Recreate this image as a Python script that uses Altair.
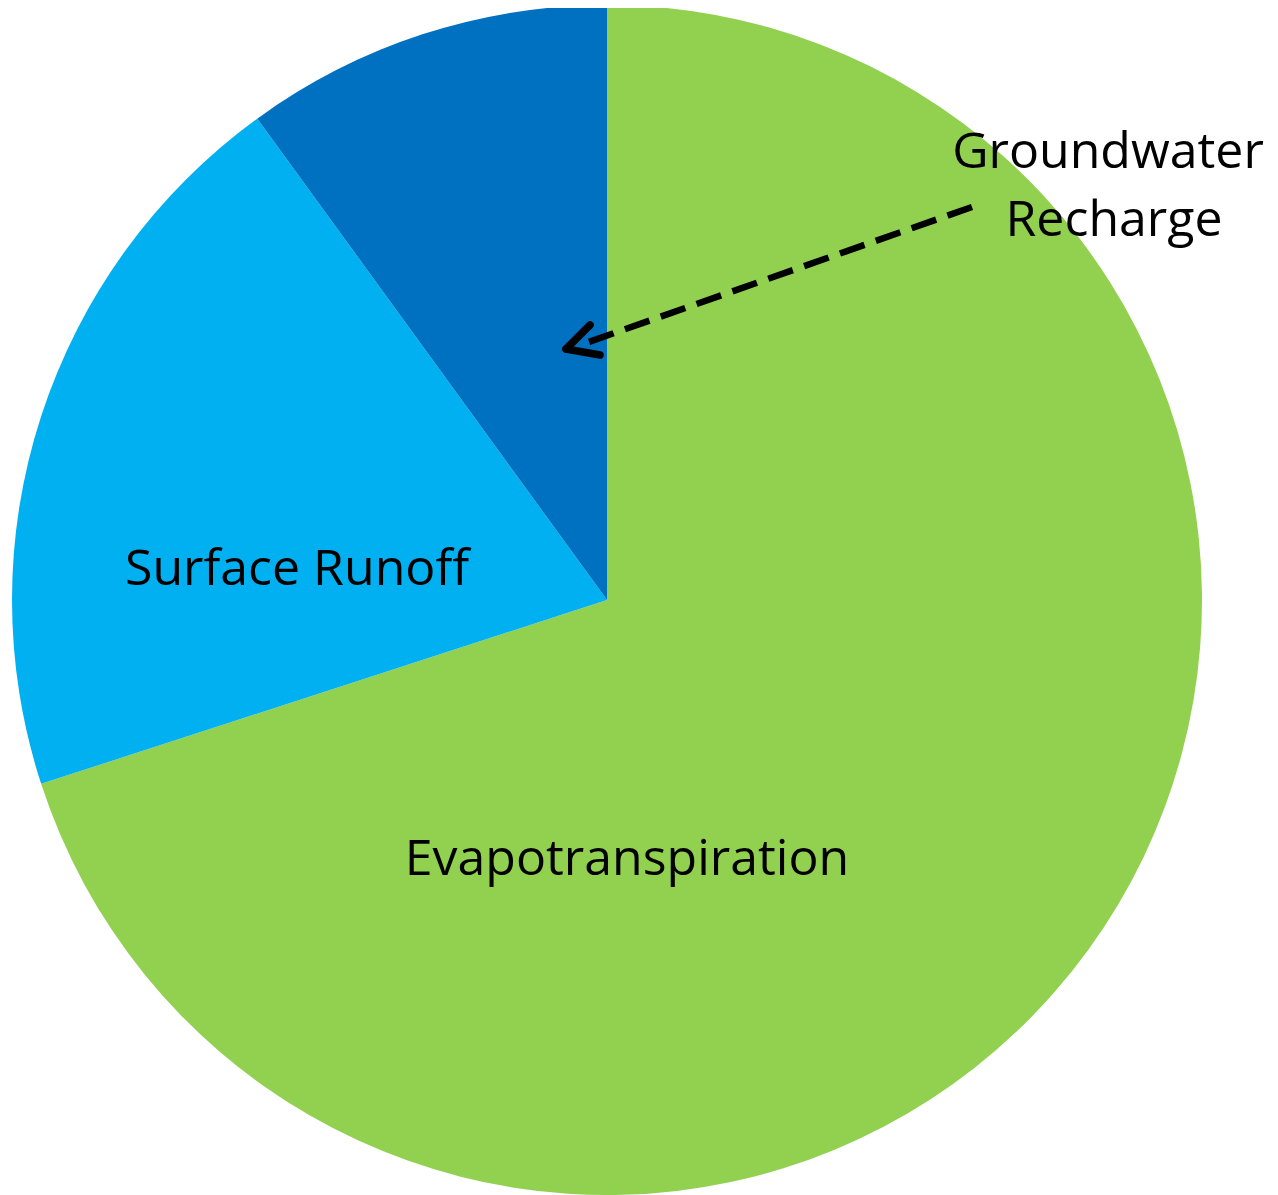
import altair as alt
import pandas as pd

# Pie data (percent of precipitation)
categories = ["Evapotranspiration", "Surface Runoff", "Groundwater Recharge"]
values = [70, 20, 10]
colors = ["#92D050", "#00B0F0", "#0070C0"]

# Label text and anchor positions (chart pixel coords, y from top)
label_text = ["Groundwater", "Recharge", "Surface Runoff", "Evapotranspiration"]
label_x = [1100, 1106, 289, 619]
label_y = [160, 228, 577, 867]

# Dashed arrow shaft and arrowhead arms
shaft_x, shaft_y, shaft_x2, shaft_y2 = [964], [199], [578], [335]
head_x = [558, 558]
head_y = [341, 341]
head_x2 = [582, 592]
head_y2 = [317, 347]

W, H = 1262, 1187
CX, CY, R = 599, 592, 595

pie_df = pd.DataFrame({"category": categories, "value": values, "order": list(range(len(categories)))})
lab_df = pd.DataFrame({"text": label_text, "x": label_x, "y": label_y})
shaft_df = pd.DataFrame({"x": shaft_x, "y": shaft_y, "x2": shaft_x2, "y2": shaft_y2})
head_df = pd.DataFrame({"x": head_x, "y": head_y, "x2": head_x2, "y2": head_y2})

xs = alt.Scale(domain=[0, W], nice=False, zero=False)
ys = alt.Scale(domain=[0, H], nice=False, zero=False, reverse=True)

pie = alt.Chart(pie_df).mark_arc(radius=R).encode(
    theta=alt.Theta("value:Q", stack=True),
    order=alt.Order("order:Q"),
    color=alt.Color("category:N", scale=alt.Scale(domain=categories, range=colors), legend=None),
    x=alt.value(CX),
    y=alt.value(CY),
)

labels = alt.Chart(lab_df).mark_text(
    font="Open Sans", fontSize=50, color="black", align="center", baseline="alphabetic"
).encode(
    x=alt.X("x:Q", scale=xs, axis=None),
    y=alt.Y("y:Q", scale=ys, axis=None),
    text="text:N",
)

shaft = alt.Chart(shaft_df).mark_rule(
    color="black", strokeWidth=6.5, strokeDash=[26, 12]
).encode(
    x=alt.X("x:Q", scale=xs, axis=None),
    y=alt.Y("y:Q", scale=ys, axis=None),
    x2="x2:Q",
    y2="y2:Q",
)

head = alt.Chart(head_df).mark_rule(
    color="black", strokeWidth=7.5, strokeCap="round"
).encode(
    x=alt.X("x:Q", scale=xs, axis=None),
    y=alt.Y("y:Q", scale=ys, axis=None),
    x2="x2:Q",
    y2="y2:Q",
)

chart = alt.layer(pie, shaft, head, labels).properties(
    width=W, height=H, padding=0, autosize=alt.AutoSizeParams(type="none"),
    background="white",
).configure_view(stroke=None)

chart.save("out.html", embed_options={"renderer": "svg", "actions": False})
